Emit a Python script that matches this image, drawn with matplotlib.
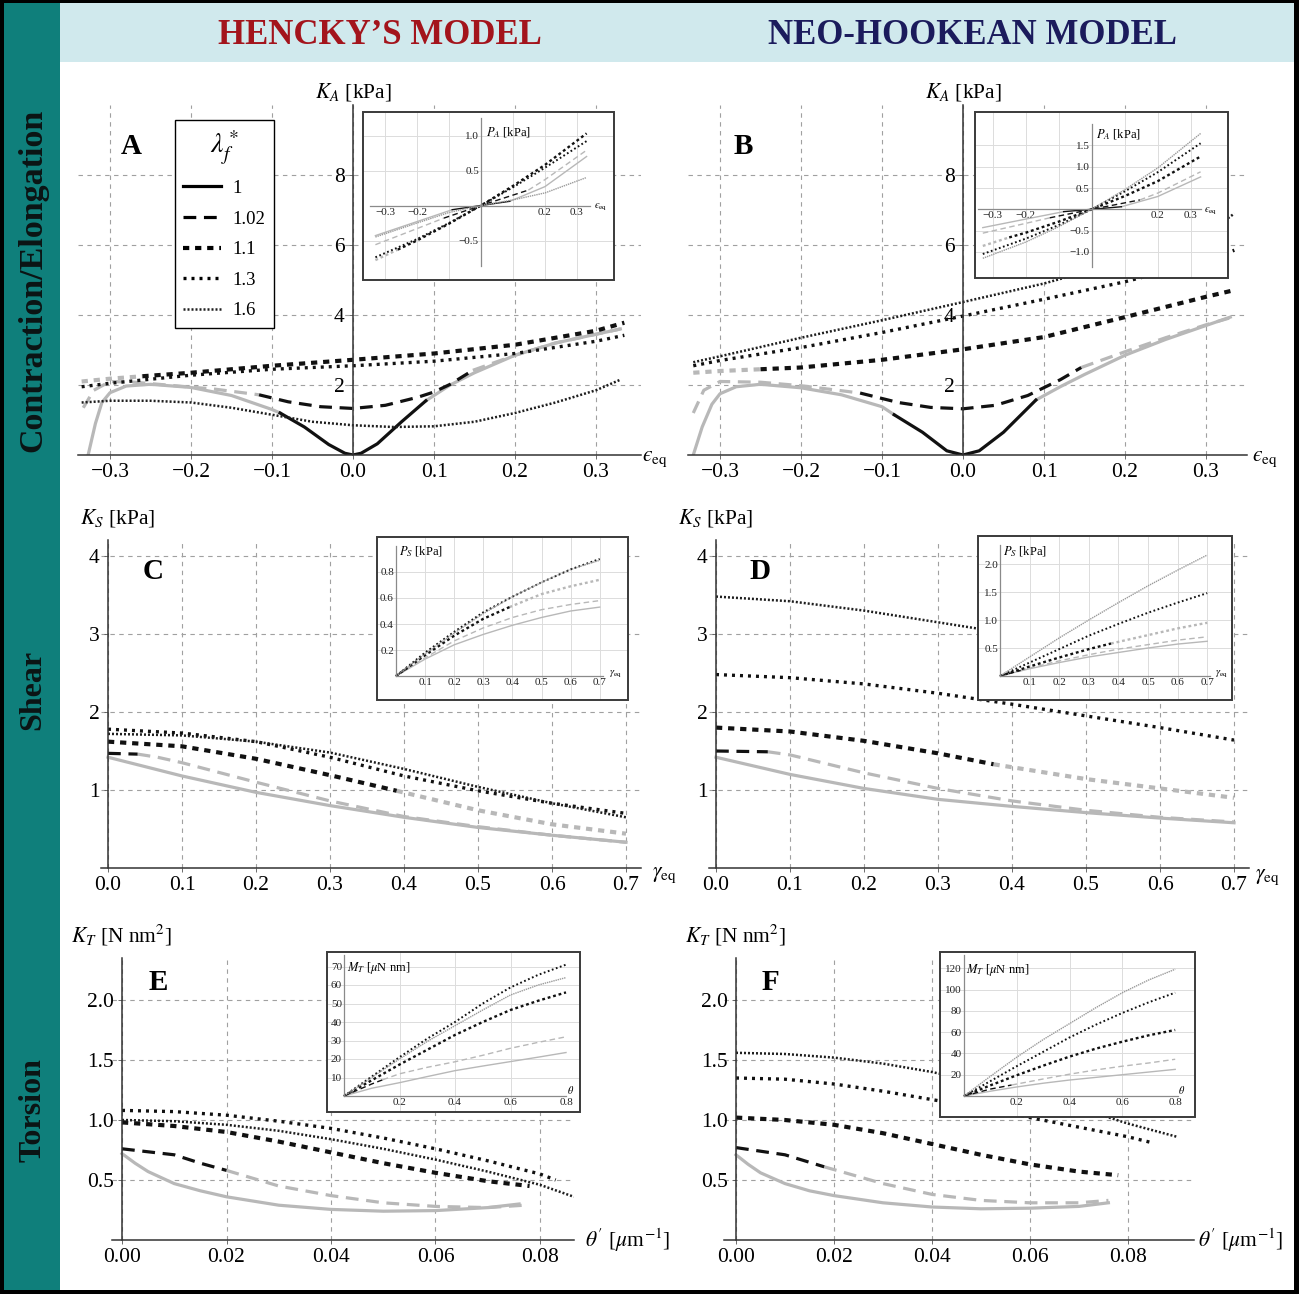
import numpy as np
import matplotlib.pyplot as plt
from matplotlib.patches import Rectangle
from matplotlib.lines import Line2D

plt.rcParams['font.family'] = ['Liberation Serif', 'DejaVu Serif']
plt.rcParams['mathtext.fontset'] = 'stix'

W, H = 1299, 1294

# ---------------- data ----------------
lam_labels = ['1', '1.02', '1.1', '1.3', '1.6']

# A: Hencky, contraction/elongation  K_A [kPa] vs eps_eq
epsA_1 = [-0.327, -0.318, -0.31, -0.30, -0.28, -0.25, -0.20, -0.15, -0.10, -0.09, -0.06, -0.03, -0.01, 0.0,
          0.01, 0.03, 0.06, 0.09, 0.12, 0.15, 0.20, 0.25, 0.30, 0.33]
KA_1 = [0.0, 0.9, 1.5, 1.78, 1.97, 2.02, 1.93, 1.70, 1.30, 1.20, 0.80, 0.30, 0.05, 0.0,
        0.05, 0.32, 0.95, 1.55, 2.0, 2.35, 2.85, 3.2, 3.45, 3.6]
epsA_102 = [-0.333, -0.32, -0.30, -0.27, -0.22, -0.17, -0.116, -0.08, -0.04, 0.0, 0.04, 0.08, 0.10, 0.12,
            0.148, 0.2, 0.25, 0.30, 0.33]
KA_102 = [1.35, 1.85, 2.1, 2.08, 1.98, 1.88, 1.72, 1.52, 1.38, 1.33, 1.42, 1.65, 1.8, 2.02,
          2.42, 2.85, 3.2, 3.45, 3.6]
epsA_11 = [-0.335, -0.30, -0.26, -0.2, -0.1, 0.0, 0.1, 0.2, 0.3, 0.335]
KA_11 = [2.1, 2.18, 2.25, 2.35, 2.55, 2.72, 2.9, 3.15, 3.55, 3.78]
epsA_13 = [-0.335, -0.3, -0.2, -0.1, 0.0, 0.1, 0.2, 0.3, 0.335]
KA_13 = [1.95, 2.05, 2.28, 2.45, 2.55, 2.68, 2.9, 3.25, 3.42]
epsA_16 = [-0.335, -0.3, -0.25, -0.2, -0.15, -0.1, -0.05, 0.0, 0.05, 0.1, 0.15, 0.2, 0.25, 0.3, 0.33]
KA_16 = [1.5, 1.55, 1.55, 1.5, 1.35, 1.15, 0.95, 0.85, 0.8, 0.82, 0.95, 1.2, 1.5, 1.85, 2.15]
blackA = [(-0.09, 0.09), (-0.116, 0.148), (-0.26, 0.335), 'all', 'all']

# B: neo-Hookean, contraction/elongation
epsB_1 = [-0.333, -0.322, -0.31, -0.30, -0.28, -0.25, -0.20, -0.15, -0.10, -0.085, -0.05, -0.02, 0.0,
          0.02, 0.05, 0.09, 0.12, 0.15, 0.2, 0.25, 0.3, 0.33]
KB_1 = [0.0, 0.8, 1.45, 1.75, 1.95, 2.02, 1.92, 1.72, 1.38, 1.15, 0.65, 0.12, 0.0,
        0.12, 0.65, 1.57, 1.95, 2.3, 2.85, 3.3, 3.7, 3.94]
epsB_102 = [-0.333, -0.32, -0.30, -0.25, -0.2, -0.127, -0.08, -0.04, 0.0, 0.04, 0.08, 0.12, 0.146,
            0.2, 0.25, 0.3, 0.33]
KB_102 = [1.2, 1.85, 2.1, 2.08, 1.98, 1.77, 1.5, 1.36, 1.32, 1.42, 1.7, 2.15, 2.5,
          2.95, 3.35, 3.72, 3.92]
epsB_11 = [-0.333, -0.3, -0.25, -0.2, -0.1, 0.0, 0.1, 0.2, 0.3, 0.333]
KB_11 = [2.35, 2.4, 2.45, 2.5, 2.72, 3.02, 3.37, 3.94, 4.52, 4.7]
epsB_13 = [-0.333, -0.3, -0.2, -0.1, 0.0, 0.1, 0.2, 0.3, 0.335]
KB_13 = [2.55, 2.7, 3.07, 3.5, 3.97, 4.45, 4.95, 5.55, 5.85]
epsB_16 = [-0.333, -0.3, -0.2, -0.1, 0.0, 0.1, 0.2, 0.3, 0.335]
KB_16 = [2.65, 2.82, 3.35, 3.85, 4.37, 4.9, 5.55, 6.3, 6.9]
blackB = [(-0.085, 0.09), (-0.127, 0.146), (-0.25, 0.333), 'all', 'all']

# C: Hencky, shear  K_S [kPa] vs gamma_eq
gC_1 = [0.0, 0.05, 0.1, 0.2, 0.3, 0.4, 0.5, 0.6, 0.7]
KC_1 = [1.42, 1.30, 1.18, 0.97, 0.80, 0.65, 0.52, 0.42, 0.33]
gC_102 = [0.0, 0.04, 0.067, 0.1, 0.2, 0.3, 0.4, 0.5, 0.6, 0.7]
KC_102 = [1.47, 1.46, 1.42, 1.35, 1.10, 0.86, 0.66, 0.53, 0.42, 0.33]
gC_11 = [0.0, 0.1, 0.2, 0.3, 0.39, 0.5, 0.6, 0.7]
KC_11 = [1.62, 1.56, 1.40, 1.19, 0.99, 0.74, 0.56, 0.44]
gC_13 = [0.0, 0.1, 0.2, 0.3, 0.4, 0.5, 0.6, 0.7]
KC_13 = [1.78, 1.73, 1.62, 1.42, 1.18, 0.99, 0.83, 0.70]
gC_16 = [0.0, 0.1, 0.2, 0.3, 0.4, 0.5, 0.6, 0.7]
KC_16 = [1.72, 1.70, 1.62, 1.48, 1.27, 1.04, 0.83, 0.65]
blackC = [None, (0.0, 0.04), (0.0, 0.39), 'all', 'all']

# D: neo-Hookean, shear
gD_1 = [0.0, 0.05, 0.1, 0.2, 0.3, 0.4, 0.5, 0.6, 0.7]
KD_1 = [1.42, 1.31, 1.2, 1.02, 0.88, 0.79, 0.71, 0.64, 0.58]
gD_102 = [0.0, 0.07, 0.1, 0.2, 0.3, 0.4, 0.5, 0.6, 0.7]
KD_102 = [1.5, 1.49, 1.45, 1.22, 1.02, 0.86, 0.74, 0.65, 0.59]
gD_11 = [0.0, 0.1, 0.2, 0.3, 0.375, 0.5, 0.6, 0.7]
KD_11 = [1.8, 1.75, 1.63, 1.47, 1.33, 1.14, 1.02, 0.9]
gD_13 = [0.0, 0.1, 0.2, 0.3, 0.4, 0.5, 0.6, 0.7]
KD_13 = [2.48, 2.44, 2.36, 2.24, 2.1, 1.95, 1.8, 1.64]
gD_16 = [0.0, 0.1, 0.2, 0.3, 0.4, 0.5, 0.6, 0.7]
KD_16 = [3.48, 3.42, 3.3, 3.15, 3.0, 2.85, 2.7, 2.55]
blackD = [None, (0.0, 0.07), (0.0, 0.375), 'all', 'all']

# E: Hencky, torsion  K_T [N nm^2] vs theta'
tE_1 = [0.0, 0.0025, 0.005, 0.01, 0.015, 0.02, 0.03, 0.04, 0.05, 0.06, 0.07, 0.076]
KE_1 = [0.72, 0.64, 0.57, 0.47, 0.41, 0.36, 0.29, 0.255, 0.24, 0.245, 0.27, 0.30]
tE_102 = [0.0, 0.01, 0.015, 0.02, 0.03, 0.04, 0.05, 0.06, 0.07, 0.077]
KE_102 = [0.76, 0.71, 0.64, 0.58, 0.45, 0.37, 0.31, 0.28, 0.27, 0.29]
tE_11 = [0.0, 0.01, 0.02, 0.03, 0.04, 0.05, 0.06, 0.07, 0.078]
KE_11 = [0.98, 0.95, 0.90, 0.82, 0.73, 0.64, 0.56, 0.49, 0.45]
tE_13 = [0.0, 0.01, 0.02, 0.03, 0.04, 0.05, 0.06, 0.07, 0.08, 0.083]
KE_13 = [1.08, 1.07, 1.04, 0.99, 0.93, 0.85, 0.76, 0.66, 0.55, 0.50]
tE_16 = [0.0, 0.01, 0.02, 0.03, 0.04, 0.05, 0.06, 0.07, 0.08, 0.0865]
KE_16 = [1.0, 0.99, 0.96, 0.91, 0.84, 0.76, 0.67, 0.57, 0.46, 0.36]
blackE = [None, (0.0, 0.02), 'all', 'all', 'all']

# F: neo-Hookean, torsion
tF_1 = [0.0, 0.0025, 0.005, 0.01, 0.015, 0.02, 0.03, 0.04, 0.05, 0.06, 0.07, 0.076]
KF_1 = [0.71, 0.63, 0.56, 0.47, 0.41, 0.37, 0.31, 0.275, 0.26, 0.265, 0.28, 0.31]
tF_102 = [0.0, 0.01, 0.018, 0.03, 0.04, 0.05, 0.06, 0.07, 0.076]
KF_102 = [0.77, 0.71, 0.61, 0.47, 0.38, 0.33, 0.31, 0.31, 0.33]
tF_11 = [0.0, 0.01, 0.02, 0.03, 0.04, 0.05, 0.06, 0.07, 0.078]
KF_11 = [1.02, 1.0, 0.96, 0.89, 0.80, 0.71, 0.63, 0.57, 0.54]
tF_13 = [0.0, 0.01, 0.02, 0.03, 0.04, 0.05, 0.06, 0.07, 0.08, 0.085]
KF_13 = [1.35, 1.34, 1.30, 1.24, 1.17, 1.10, 1.02, 0.94, 0.86, 0.81]
tF_16 = [0.0, 0.01, 0.02, 0.03, 0.04, 0.05, 0.06, 0.07, 0.08, 0.09]
KF_16 = [1.56, 1.55, 1.52, 1.47, 1.40, 1.31, 1.21, 1.10, 0.97, 0.86]
blackF = [None, (0.0, 0.018), 'all', 'all', 'all']

# insets: P_A, P_S [kPa] and M_T [uN nm]
iA_x1 = [-0.33, -0.2, -0.09, 0.0, 0.09, 0.2, 0.33]
iA_y1 = [-0.43, -0.23, -0.06, 0.0, 0.06, 0.27, 0.70]
iA_x102 = [-0.33, -0.2, -0.116, 0.0, 0.148, 0.2, 0.33]
iA_y102 = [-0.56, -0.33, -0.18, 0.0, 0.22, 0.37, 0.79]
iA_x11 = [-0.33, -0.26, -0.2, -0.1, 0.0, 0.1, 0.2, 0.33]
iA_y11 = [-0.78, -0.63, -0.5, -0.26, 0.0, 0.28, 0.58, 1.03]
iA_x13 = [-0.33, -0.2, -0.1, 0.0, 0.1, 0.2, 0.33]
iA_y13 = [-0.74, -0.48, -0.25, 0.0, 0.26, 0.54, 0.92]
iA_x16 = [-0.33, -0.2, -0.1, 0.0, 0.1, 0.2, 0.33]
iA_y16 = [-0.45, -0.25, -0.1, 0.0, 0.08, 0.18, 0.40]

iB_x1 = [-0.33, -0.2, -0.085, 0.0, 0.09, 0.2, 0.33]
iB_y1 = [-0.43, -0.23, -0.055, 0.0, 0.06, 0.30, 0.76]
iB_x102 = [-0.33, -0.2, -0.127, 0.0, 0.146, 0.2, 0.33]
iB_y102 = [-0.56, -0.33, -0.2, 0.0, 0.22, 0.38, 0.88]
iB_x11 = [-0.33, -0.25, -0.2, -0.1, 0.0, 0.1, 0.2, 0.33]
iB_y11 = [-0.86, -0.66, -0.55, -0.29, 0.0, 0.31, 0.66, 1.24]
iB_x13 = [-0.33, -0.2, -0.1, 0.0, 0.1, 0.2, 0.33]
iB_y13 = [-1.05, -0.69, -0.37, 0.0, 0.42, 0.87, 1.55]
iB_x16 = [-0.33, -0.2, -0.1, 0.0, 0.1, 0.2, 0.33]
iB_y16 = [-1.15, -0.77, -0.41, 0.0, 0.46, 0.97, 1.78]

iC_x1 = [0.0, 0.1, 0.2, 0.3, 0.4, 0.5, 0.6, 0.7]
iC_y1 = [0.0, 0.13, 0.24, 0.32, 0.39, 0.45, 0.50, 0.53]
iC_x102 = [0.0, 0.04, 0.1, 0.2, 0.3, 0.4, 0.5, 0.6, 0.7]
iC_y102 = [0.0, 0.06, 0.14, 0.27, 0.37, 0.45, 0.51, 0.55, 0.58]
iC_x11 = [0.0, 0.1, 0.2, 0.3, 0.39, 0.5, 0.6, 0.7]
iC_y11 = [0.0, 0.16, 0.31, 0.44, 0.53, 0.63, 0.69, 0.74]
iC_x13 = [0.0, 0.1, 0.2, 0.3, 0.4, 0.5, 0.6, 0.7]
iC_y13 = [0.0, 0.18, 0.34, 0.49, 0.61, 0.72, 0.82, 0.90]
iC_x16 = [0.0, 0.1, 0.2, 0.3, 0.4, 0.5, 0.6, 0.7]
iC_y16 = [0.0, 0.17, 0.33, 0.48, 0.61, 0.72, 0.82, 0.89]

iD_x1 = [0.0, 0.1, 0.2, 0.3, 0.4, 0.5, 0.6, 0.7]
iD_y1 = [0.0, 0.13, 0.24, 0.34, 0.42, 0.50, 0.57, 0.62]
iD_x102 = [0.0, 0.07, 0.1, 0.2, 0.3, 0.4, 0.5, 0.6, 0.7]
iD_y102 = [0.0, 0.10, 0.14, 0.27, 0.38, 0.48, 0.56, 0.64, 0.70]
iD_x11 = [0.0, 0.1, 0.2, 0.3, 0.375, 0.5, 0.6, 0.7]
iD_y11 = [0.0, 0.17, 0.33, 0.48, 0.58, 0.73, 0.85, 0.95]
iD_x13 = [0.0, 0.1, 0.2, 0.3, 0.4, 0.5, 0.6, 0.7]
iD_y13 = [0.0, 0.24, 0.48, 0.72, 0.93, 1.13, 1.31, 1.48]
iD_x16 = [0.0, 0.1, 0.2, 0.3, 0.4, 0.5, 0.6, 0.7]
iD_y16 = [0.0, 0.34, 0.68, 1.0, 1.31, 1.61, 1.89, 2.16]

iE_x1 = [0.0, 0.1, 0.2, 0.3, 0.4, 0.5, 0.6, 0.7, 0.8]
iE_y1 = [0.0, 4.2, 7.2, 10.5, 13.7, 16.2, 18.6, 21.0, 23.5]
iE_x102 = [0.0, 0.1, 0.14, 0.2, 0.3, 0.4, 0.5, 0.6, 0.7, 0.8]
iE_y102 = [0.0, 6.5, 8.8, 12.0, 15.5, 18.5, 22.0, 25.8, 29.0, 32.0]
iE_x11 = [0.0, 0.1, 0.2, 0.3, 0.4, 0.5, 0.6, 0.7, 0.8]
iE_y11 = [0.0, 8.5, 17.0, 25.0, 33.0, 40.0, 46.5, 51.5, 56.0]
iE_x13 = [0.0, 0.1, 0.2, 0.3, 0.4, 0.5, 0.6, 0.7, 0.8]
iE_y13 = [0.0, 10.5, 21.0, 31.0, 40.0, 50.0, 58.7, 65.5, 71.0]
iE_x16 = [0.0, 0.1, 0.2, 0.3, 0.4, 0.5, 0.6, 0.7, 0.8]
iE_y16 = [0.0, 10.0, 20.0, 29.5, 38.0, 46.5, 54.6, 60.0, 64.0]

iF_x1 = [0.0, 0.1, 0.2, 0.3, 0.4, 0.5, 0.6, 0.7, 0.8]
iF_y1 = [0.0, 4.5, 8.5, 12.0, 15.0, 17.5, 20.0, 22.5, 25.0]
iF_x102 = [0.0, 0.1, 0.18, 0.3, 0.4, 0.5, 0.6, 0.7, 0.8]
iF_y102 = [0.0, 6.5, 10.3, 16.0, 20.5, 24.5, 28.0, 31.0, 34.5]
iF_x11 = [0.0, 0.1, 0.2, 0.3, 0.4, 0.5, 0.6, 0.7, 0.8]
iF_y11 = [0.0, 10.0, 19.5, 28.5, 37.0, 44.5, 51.0, 57.0, 62.0]
iF_x13 = [0.0, 0.1, 0.2, 0.3, 0.4, 0.5, 0.6, 0.7, 0.8]
iF_y13 = [0.0, 14.0, 28.0, 41.5, 55.0, 67.0, 78.0, 88.0, 97.0]
iF_x16 = [0.0, 0.1, 0.2, 0.3, 0.4, 0.5, 0.6, 0.7, 0.8]
iF_y16 = [0.0, 18.5, 36.5, 53.0, 68.0, 83.0, 97.0, 109.0, 119.0]

iblackA = [(-0.09, 0.09), (-0.116, 0.148), (-0.26, 0.33), 'all', None]
iblackB = [(-0.085, 0.09), (-0.127, 0.146), (-0.25, 0.33), 'all', None]
iblackC = [None, (0.0, 0.04), (0.0, 0.39), 'all', None]
iblackD = [None, (0.0, 0.07), (0.0, 0.375), 'all', None]
iblackE = [None, (0.0, 0.14), 'all', 'all', None]
iblackF = [None, (0.0, 0.18), 'all', 'all', None]

# ---------------- styles ----------------
INK = '#111111'
GRAY = '#b8b8b8'
MAIN_ST = [dict(ls='-', lw=2.3),
           dict(ls=(0, (4, 2.4)), lw=2.3),
           dict(ls=(0, (1.5, 1.4)), lw=3.0),
           dict(ls=(0, (0.9, 1.5)), lw=2.4),
           dict(ls=(0, (0.8, 0.8)), lw=1.8)]
INS_ST = [dict(ls='-', lw=1.0),
          dict(ls=(0, (4, 2.5)), lw=1.0),
          dict(ls=(0, (1.2, 1.2)), lw=1.7),
          dict(ls=(0, (0.9, 1.3)), lw=1.4),
          dict(ls=(0, (1.0, 0.6)), lw=1.0)]

fig = plt.figure(figsize=(W / 100, H / 100), dpi=100)
fig.patch.set_facecolor('black')


def rect(x0, y0, x1, y1, color):
    fig.add_artist(Rectangle((x0 / W, 1 - y1 / H), (x1 - x0) / W, (y1 - y0) / H,
                             transform=fig.transFigure, facecolor=color, edgecolor='none', zorder=-5))


def ftext(x, y, s, **kw):
    fig.text(x / W, 1 - y / H, s, **kw)


rect(4, 3, 1294, 1290, 'white')
rect(4, 3, 60, 1290, '#0f7f7b')
rect(60, 3, 1294, 62, '#d0e9ed')

ftext(380, 35, 'HENCKY\u2019S MODEL', ha='center', va='center', fontsize=25,
      fontweight='bold', color='#a3141c')
ftext(972, 35, 'NEO-HOOKEAN MODEL', ha='center', va='center', fontsize=25,
      fontweight='bold', color='#1b1b5c')
for y, s, fs in [(280, 'Contraction/Elongation', 24.5), (690, 'Shear', 23), (1110, 'Torsion', 23)]:
    ftext(33, y, s, rotation=90, ha='center', va='center', fontsize=fs,
          fontweight='bold', color='#0b1414')


def draw_curve(ax, x, y, black, st, c_all):
    x = np.asarray(x, float)
    y = np.asarray(y, float)
    if black == 'all':
        ax.plot(x, y, color=c_all, **st)
        return
    if black is None:
        ax.plot(x, y, color=GRAY if c_all == INK else c_all, **st)
        return
    lo, hi = black
    for m, c in ((x <= lo, GRAY), (x >= hi, GRAY), ((x >= lo) & (x <= hi), INK)):
        if m.sum() > 1:
            ax.plot(x[m], y[m], color=c, **st)


def main_panel(x0, sx, y0, sy, xlim, ylim, curves, blacks, xt, xtl, yt, ytl):
    left = x0 + sx * xlim[0]
    right = x0 + sx * xlim[1]
    top = y0 - sy * ylim[1]
    ax = fig.add_axes([left / W, 1 - y0 / H, (right - left) / W, (y0 - top) / H])
    ax.set_xlim(*xlim)
    ax.set_ylim(*ylim)
    ax.patch.set_alpha(0)
    for sp in ['top', 'right']:
        ax.spines[sp].set_visible(False)
    ax.spines['left'].set_position(('data', 0))
    for sp in ['left', 'bottom']:
        ax.spines[sp].set_color('#333333')
        ax.spines[sp].set_linewidth(1.1)
    ax.set_xticks(xt)
    ax.set_xticklabels(xtl)
    ax.set_yticks(yt)
    ax.set_yticklabels(ytl)
    ax.tick_params(labelsize=15.5, length=3, width=0.6, color='#555555', pad=3)
    ax.grid(True, color='#a0a0a0', lw=0.8, ls=(0, (4, 4)))
    ax.set_axisbelow(True)
    for i, (cx, cy) in enumerate(curves):
        draw_curve(ax, cx, cy, blacks[i], MAIN_ST[i], '#1e1e1e' if i == 4 else INK)
    return ax


def inset(box, x0, sx, y0, sy, xb, yb, curves, blacks, xt, xtl, yt, ytl, xgrid, ygrid):
    l, r, t, b = box
    ax = fig.add_axes([l / W, 1 - b / H, (r - l) / W, (b - t) / H])
    ax.set_xlim((l - x0) / sx, (r - x0) / sx)
    ax.set_ylim((y0 - b) / sy, (y0 - t) / sy)
    ax.set_facecolor('white')
    for sp in ['top', 'right']:
        ax.spines[sp].set_visible(False)
    ax.spines['left'].set_position(('data', 0))
    ax.spines['bottom'].set_position(('data', 0))
    ax.spines['left'].set_bounds(*yb)
    ax.spines['bottom'].set_bounds(*xb)
    for sp in ['left', 'bottom']:
        ax.spines[sp].set_color('#8a8a8a')
        ax.spines[sp].set_linewidth(0.9)
    ax.set_xticks(xt)
    ax.set_xticklabels(xtl)
    ax.set_yticks(yt)
    ax.set_yticklabels(ytl)
    ax.tick_params(labelsize=8, length=0, pad=1.5, colors='#222222')
    for g in xgrid:
        ax.axvline(g, color='#dcdcdc', lw=0.7, zorder=0)
    for g in ygrid:
        ax.axhline(g, color='#dcdcdc', lw=0.7, zorder=0)
    for i, (cx, cy) in enumerate(curves):
        draw_curve(ax, cx, cy, blacks[i], INS_ST[i], '#9a9a9a' if i == 4 else INK)
    ax.add_patch(Rectangle((0, 0), 1, 1, transform=ax.transAxes, fill=False,
                           edgecolor='#3a3a3a', lw=1.4, clip_on=False, zorder=10))
    return ax


eps_t = [-0.3, -0.2, -0.1, 0.0, 0.1, 0.2, 0.3]
eps_tl = ['\u22120.3', '\u22120.2', '\u22120.1', '0.0', '0.1', '0.2', '0.3']
g_t = [0.0, 0.1, 0.2, 0.3, 0.4, 0.5, 0.6, 0.7]
g_tl = ['0.0', '0.1', '0.2', '0.3', '0.4', '0.5', '0.6', '0.7']
th_t = [0.0, 0.02, 0.04, 0.06, 0.08]
th_tl = ['0.00', '0.02', '0.04', '0.06', '0.08']

axA = main_panel(353, 810, 455, 35, (-0.34, 0.355), (0, 10),
                 [(epsA_1, KA_1), (epsA_102, KA_102), (epsA_11, KA_11), (epsA_13, KA_13), (epsA_16, KA_16)],
                 blackA, eps_t, eps_tl, [2, 4, 6, 8], ['2', '4', '6', '8'])
axB = main_panel(963, 810, 455, 35, (-0.34, 0.35), (0, 10),
                 [(epsB_1, KB_1), (epsB_102, KB_102), (epsB_11, KB_11), (epsB_13, KB_13), (epsB_16, KB_16)],
                 blackB, eps_t, eps_tl, [2, 4, 6, 8], ['2', '4', '6', '8'])
axC = main_panel(108, 740, 868, 78, (-0.01, 0.72), (0, 4.2),
                 [(gC_1, KC_1), (gC_102, KC_102), (gC_11, KC_11), (gC_13, KC_13), (gC_16, KC_16)],
                 blackC, g_t, g_tl, [1, 2, 3, 4], ['1', '2', '3', '4'])
axD = main_panel(716, 740, 868, 78, (-0.01, 0.72), (0, 4.2),
                 [(gD_1, KD_1), (gD_102, KD_102), (gD_11, KD_11), (gD_13, KD_13), (gD_16, KD_16)],
                 blackD, g_t, g_tl, [1, 2, 3, 4], ['1', '2', '3', '4'])
axE = main_panel(122, 5225, 1240, 120, (-0.002, 0.0866), (0, 2.35),
                 [(tE_1, KE_1), (tE_102, KE_102), (tE_11, KE_11), (tE_13, KE_13), (tE_16, KE_16)],
                 blackE, th_t, th_tl, [0.5, 1.0, 1.5, 2.0], ['0.5', '1.0', '1.5', '2.0'])
axF = main_panel(736, 4900, 1240, 120, (-0.0025, 0.0935), (0, 2.35),
                 [(tF_1, KF_1), (tF_102, KF_102), (tF_11, KF_11), (tF_13, KF_13), (tF_16, KF_16)],
                 blackF, th_t, th_tl, [0.5, 1.0, 1.5, 2.0], ['0.5', '1.0', '1.5', '2.0'])

# legend in panel A
handles = [Line2D([], [], color='#1e1e1e' if i == 4 else 'black', **MAIN_ST[i]) for i in range(5)]
leg = axA.legend(handles, lam_labels, title=r'$\lambda_f^*$', loc='upper left',
                 bbox_to_anchor=(175 / W, 1 - 120 / H), bbox_transform=fig.transFigure,
                 borderaxespad=0, fontsize=13.5, title_fontsize=20, handlelength=2.0,
                 handletextpad=0.6, labelspacing=0.72, borderpad=0.45,
                 fancybox=False, framealpha=1, edgecolor='black')
leg.get_frame().set_linewidth(1.0)

# main axis labels and panel letters
EPS = '$\u03f5_{\\mathrm{eq}}$'
lab = dict(fontsize=15.5)
ftext(353, 92, r'$K_A$ [kPa]', ha='center', va='center', **lab)
ftext(963, 92, r'$K_A$ [kPa]', ha='center', va='center', **lab)
ftext(118, 518, r'$K_S$ [kPa]', ha='center', va='center', **lab)
ftext(716, 518, r'$K_S$ [kPa]', ha='center', va='center', **lab)
ftext(121, 935, r'$K_T$ [N nm$^2$]', ha='center', va='center', **lab)
ftext(735, 935, r'$K_T$ [N nm$^2$]', ha='center', va='center', **lab)
ftext(642, 459, EPS, ha='left', va='center', **lab)
ftext(1252, 459, EPS, ha='left', va='center', **lab)
ftext(652, 875, r'$\gamma_{\mathrm{eq}}$', ha='left', va='center', **lab)
ftext(1255, 877, r'$\gamma_{\mathrm{eq}}$', ha='left', va='center', **lab)
ftext(585, 1240, r"$\theta'$ [$\mu$m$^{-1}$]", ha='left', va='center', **lab)
ftext(1198, 1240, r"$\theta'$ [$\mu$m$^{-1}$]", ha='left', va='center', **lab)
for x, y, s in [(131, 147, 'A'), (743, 147, 'B'), (153, 572, 'C'),
                (760, 572, 'D'), (158, 983, 'E'), (770, 983, 'F')]:
    ftext(x, y, s, ha='center', va='center', fontsize=21, fontweight='bold')

# insets
e_it = [-0.3, -0.2, -0.1, 0.1, 0.2, 0.3]
e_itl = ['\u22120.3', '\u22120.2', '', '', '0.2', '0.3']
inset((363, 614, 112, 280), 481, 320, 205.5, 70, (-0.347, 0.34), (-0.87, 1.25),
      [(iA_x1, iA_y1), (iA_x102, iA_y102), (iA_x11, iA_y11), (iA_x13, iA_y13), (iA_x16, iA_y16)],
      iblackA, e_it, e_itl, [-0.5, 0.5, 1.0], ['\u22120.5', '0.5', '1.0'],
      e_it, [-0.5, 0.5, 1.0])
inset((975, 1228, 112, 278), 1091.7, 330, 209.3, 42.6, (-0.344, 0.33), (-1.36, 2.0),
      [(iB_x1, iB_y1), (iB_x102, iB_y102), (iB_x11, iB_y11), (iB_x13, iB_y13), (iB_x16, iB_y16)],
      iblackB, e_it, e_itl, [-1.0, -0.5, 0.5, 1.0, 1.5], ['\u22121.0', '\u22120.5', '0.5', '1.0', '1.5'],
      e_it, [-1.0, -0.5, 0.5, 1.0, 1.5])
gi = [0.1, 0.2, 0.3, 0.4, 0.5, 0.6, 0.7]
gil = ['0.1', '0.2', '0.3', '0.4', '0.5', '0.6', '0.7']
inset((377, 628, 537, 700), 396, 291, 676, 130, (0, 0.71), (0, 1.0),
      [(iC_x1, iC_y1), (iC_x102, iC_y102), (iC_x11, iC_y11), (iC_x13, iC_y13), (iC_x16, iC_y16)],
      iblackC, gi, gil, [0.2, 0.4, 0.6, 0.8], ['0.2', '0.4', '0.6', '0.8'],
      gi, [0.2, 0.4, 0.6, 0.8])
inset((978, 1232, 536, 700), 1000, 296, 676, 56, (0, 0.71), (0, 2.34),
      [(iD_x1, iD_y1), (iD_x102, iD_y102), (iD_x11, iD_y11), (iD_x13, iD_y13), (iD_x16, iD_y16)],
      iblackD, gi, gil, [0.5, 1.0, 1.5, 2.0], ['0.5', '1.0', '1.5', '2.0'],
      gi, [0.5, 1.0, 1.5, 2.0])
ti = [0.2, 0.4, 0.6, 0.8]
til = ['0.2', '0.4', '0.6', '0.8']
inset((327, 580, 952, 1112), 344, 277.5, 1096, 1.85, (0, 0.8), (0, 76),
      [(iE_x1, iE_y1), (iE_x102, iE_y102), (iE_x11, iE_y11), (iE_x13, iE_y13), (iE_x16, iE_y16)],
      iblackE, ti, til, [10, 20, 30, 40, 50, 60, 70], ['10', '20', '30', '40', '50', '60', '70'],
      [0.2, 0.4, 0.6], [10, 20, 30, 40, 50, 60, 70])
inset((940, 1195, 952, 1117), 964, 264, 1096, 1.065, (0, 0.81), (0, 132),
      [(iF_x1, iF_y1), (iF_x102, iF_y102), (iF_x11, iF_y11), (iF_x13, iF_y13), (iF_x16, iF_y16)],
      iblackF, ti, til, [20, 40, 60, 80, 100, 120], ['20', '40', '60', '80', '100', '120'],
      [0.2, 0.4, 0.6], [20, 40, 60, 80, 100, 120])

il = dict(fontsize=9)
ftext(486, 133, r'$P_A$ [kPa]', ha='left', va='center', **il)
ftext(1096, 135, r'$P_A$ [kPa]', ha='left', va='center', **il)
ftext(399, 552, r'$P_S$ [kPa]', ha='left', va='center', **il)
ftext(1003, 552, r'$P_S$ [kPa]', ha='left', va='center', **il)
ftext(347, 968, r'$M_T$ [$\mu$N nm]', ha='left', va='center', **il)
ftext(966, 970, r'$M_T$ [$\mu$N nm]', ha='left', va='center', **il)
sl = dict(fontsize=7.5)
ftext(594, 207, EPS, ha='left', va='center', **sl)
ftext(1204, 211, EPS, ha='left', va='center', **sl)
ftext(609, 674, r'$\gamma_{\mathrm{eq}}$', ha='left', va='center', **sl)
ftext(1215, 674, r'$\gamma_{\mathrm{eq}}$', ha='left', va='center', **sl)
ftext(567, 1090, r'$\theta$', ha='left', va='center', **sl)
ftext(1178, 1090, r'$\theta$', ha='left', va='center', **sl)

fig.savefig('out.png', dpi=100, facecolor=fig.get_facecolor())
